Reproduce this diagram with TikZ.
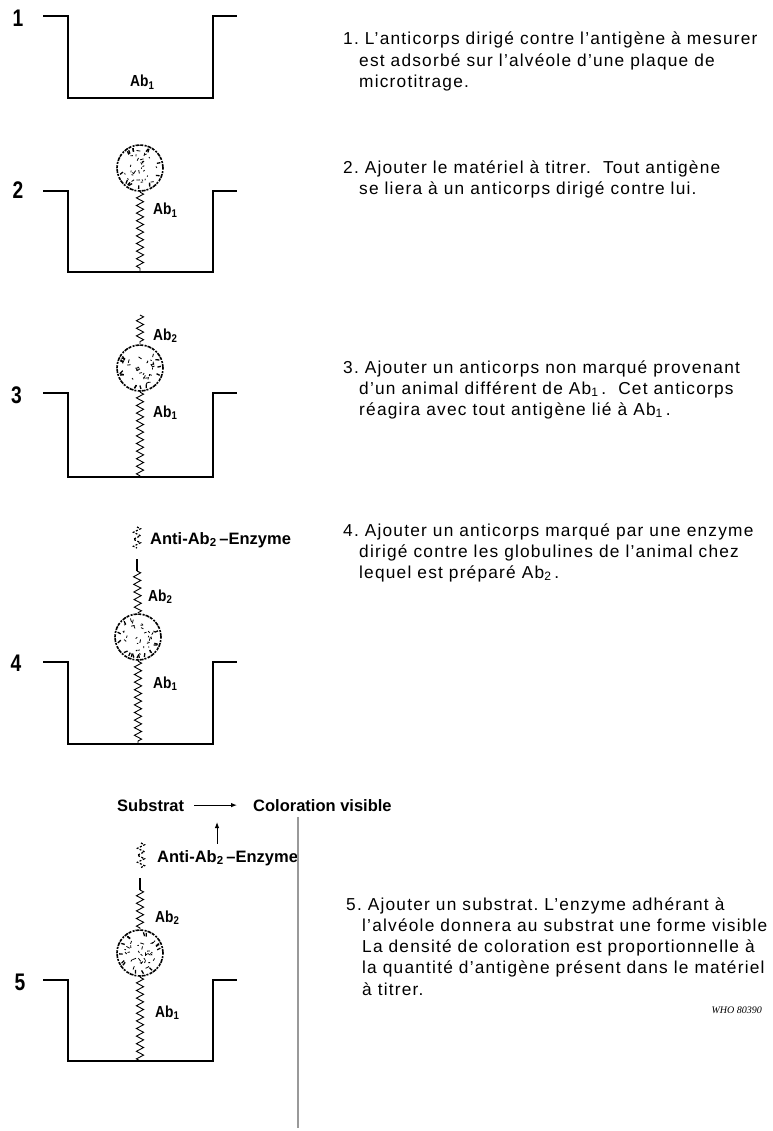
\documentclass[tikz,border=0pt]{standalone}
\usepackage{fontspec}
\setmainfont{Liberation Sans}
\newfontfamily\bodyfont[LetterSpace=7]{Liberation Sans}
\newfontfamily\labfont[FakeStretch=0.86]{Liberation Sans}
\newfontfamily\numfont[FakeStretch=0.8]{Liberation Sans}
\newfontfamily\whofont{Liberation Serif}
\usetikzlibrary{decorations.pathmorphing,arrows.meta}
\frenchspacing

% well of a microtitre plate: rim level #1, floor level #2
\newcommand\wellat[2]{%
  \draw[wellline] (43,#1) -- (68,#1) -- (68,#2) -- (213,#2) -- (213,#1) -- (237,#1);}

% textured antigen particle: name, x, y, seed
\newcommand\antigen[4]{%
  \node[circle, minimum size=48pt, inner sep=0pt] (#1) at (#2,#3) {};
  \begin{scope}[shift={(#2,#3)}]
    \pgfmathsetseed{#4}
    \draw[line width=1.6pt, dash pattern=on 4pt off 1pt on 2pt off 1.4pt on 3pt off 0.8pt] (0,0) circle (23pt);
    \foreach \k in {1,...,14} {
      \pgfmathsetmacro\aa{360*rnd}
      \draw[line width=1.3pt] (\aa:21pt) -- (\aa+14*rnd-7:17.5pt);
    }
    \foreach \k in {1,...,30} {
      \pgfmathsetmacro\aa{360*rnd}
      \pgfmathsetmacro\rr{18*sqrt(rnd)}
      \pgfmathsetmacro\dd{360*rnd}
      \pgfmathsetmacro\ll{1.2+2.8*rnd}
      \draw[line width=0.8pt] (\aa:\rr pt) -- ++(\dd:\ll pt);
    }
  \end{scope}}

\begin{document}
\begin{tikzpicture}[x=1pt,y=-1pt,
  wellline/.style={line width=1.5pt, line join=miter},
  spring/.style={decorate, decoration={zigzag, segment length=7.6pt, amplitude=3.6pt}, line width=0.9pt},
  dotspring/.style={decorate, decoration={zigzag, segment length=7pt, amplitude=3.6pt}, line width=1.2pt, dash pattern=on 2pt off 1.6pt},
  linkbar/.style={line width=1.8pt},
  body/.style={anchor=base west, inner sep=0pt, font=\bodyfont\fontsize{17.3}{20}\selectfont},
  lab/.style={anchor=base west, inner sep=0pt, font=\labfont\bfseries\fontsize{16}{19}\selectfont},
  biglab/.style={anchor=base west, inner sep=0pt, font=\bfseries\fontsize{16.5}{19}\selectfont},
  num/.style={inner sep=0pt, font=\numfont\bfseries\fontsize{24}{28}\selectfont},
  arr/.style={line width=1pt, -{Latex[length=6pt,width=4.5pt]}},
  rule/.style={line width=1.2pt, draw=black!40}]

\useasboundingbox (0,0) rectangle (772,1131);

% ---------- step 1 ----------
\node[num] (n1) at (18,18.5) {1};
\wellat{16}{98}
\node[lab] (ab1a) at (130,87) {Ab\textsubscript{1}};

% ---------- step 2 ----------
\node[num] (n2) at (18,190) {2};
\wellat{191}{272}
\antigen{ag2}{140}{168}{11}
\coordinate (f2) at (140,272);
\draw[spring] (ag2.south) -- (f2);
\node[lab] (ab1b) at (153,215) {Ab\textsubscript{1}};

% ---------- step 3 ----------
\node[num] (n3) at (16.5,395) {3};
\wellat{393}{477}
\antigen{ag3}{140}{368}{23}
\coordinate (f3) at (140,477);
\coordinate (top3) at (140,315);
\draw[spring] (ag3.south) -- (f3);
\draw[spring] (top3) -- (ag3.north);
\node[lab] (ab2c) at (153,340) {Ab\textsubscript{2}};
\node[lab] (ab1c) at (153,417) {Ab\textsubscript{1}};

% ---------- step 4 ----------
\node[num] (n4) at (16,663) {4};
\wellat{662}{744}
\antigen{ag4}{138}{637}{37}
\coordinate (f4) at (138,744);
\coordinate (b4t) at (137,559);
\coordinate (b4b) at (137,571);
\coordinate (e4t) at (137,527);
\coordinate (e4b) at (137,548);
\draw[spring] (ag4.south) -- (f4);
\draw[spring] (b4b) -- (ag4.north);
\draw[linkbar] (b4t) -- (b4b);
\draw[dotspring] (e4t) -- (e4b);
\node[biglab] (enz4) at (150,544) {Anti-Ab\textsubscript{2}\,--Enzyme};
\node[lab] (ab2d) at (148,601) {Ab\textsubscript{2}};
\node[lab] (ab1d) at (153,688) {Ab\textsubscript{1}};

% ---------- step 5 ----------
\node[num] (n5) at (20,982) {5};
\wellat{980}{1061}
\antigen{ag5}{140}{953}{59}
\coordinate (f5) at (140,1061);
\coordinate (b5t) at (140,878);
\coordinate (b5b) at (140,890);
\coordinate (e5t) at (141,843);
\coordinate (e5b) at (141,868);
\draw[spring] (ag5.south) -- (f5);
\draw[spring] (b5b) -- (ag5.north);
\draw[linkbar] (b5t) -- (b5b);
\draw[dotspring] (e5t) -- (e5b);
\node[biglab] (enz5) at (157,862) {Anti-Ab\textsubscript{2}\,--Enzyme};
\node[lab] (ab2e) at (155,922) {Ab\textsubscript{2}};
\node[lab] (ab1e) at (155,1017) {Ab\textsubscript{1}};

\node[biglab] (sub) at (117,811) {Substrat};
\node[biglab] (col) at (253,811) {Coloration visible};
\draw[arr, shorten <=10pt, shorten >=16pt] (sub.east) -- (sub.east -| col.west);
\coordinate (meet) at (217,805);
\draw[arr, shorten <=6pt, shorten >=17pt] (enz5.north -| meet) -- (meet);

\coordinate (g1) at (298,817);
\coordinate (g2) at (298,1128);
\draw[rule] (g1) -- (g2);

% ---------- explanatory text ----------
\node[body] (t1a) at (343,45) {1.\ L’anticorps dirigé contre l’antigène à mesurer};
\node[body] (t1b) at (359,67) {est adsorbé sur l’alvéole d’une plaque de};
\node[body] (t1c) at (359,88) {microtitrage.};

\node[body] (t2a) at (343,174) {2.\ Ajouter le matériel à titrer.\ \ Tout antigène};
\node[body] (t2b) at (359,195) {se liera à un anticorps dirigé contre lui.};

\node[body] (t3a) at (343,373) {3.\ Ajouter un anticorps non marqué provenant};
\node[body] (t3b) at (359,394) {d’un animal différent de Ab\textsubscript{1}\,.\ \ Cet anticorps};
\node[body] (t3c) at (359,415) {réagira avec tout antigène lié à Ab\textsubscript{1}\,.};

\node[body] (t4a) at (343,536) {4.\ Ajouter un anticorps marqué par une enzyme};
\node[body] (t4b) at (359,557) {dirigé contre les globulines de l’animal chez};
\node[body] (t4c) at (359,578) {lequel est préparé Ab\textsubscript{2}\,.};

\node[body] (t5a) at (346,910) {5.\ Ajouter un substrat. L’enzyme adhérant à};
\node[body] (t5b) at (362,931) {l’alvéole donnera au substrat une forme visible};
\node[body] (t5c) at (362,952) {La densité de coloration est proportionnelle à};
\node[body] (t5d) at (362,973) {la quantité d’antigène présent dans le matériel};
\node[body] (t5e) at (362,995) {à titrer.};

\node[anchor=base east, inner sep=0pt, font=\whofont\itshape\fontsize{10}{12}\selectfont] (who) at (762,1013) {WHO 80390};

\end{tikzpicture}
\end{document}
